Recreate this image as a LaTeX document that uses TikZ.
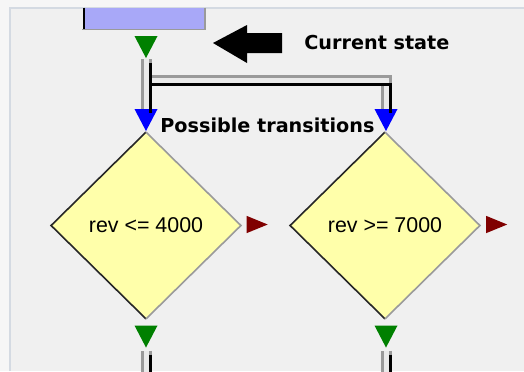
\documentclass[tikz,border=0pt]{standalone}
\usepackage{fontspec}
\usepackage{xcolor}
\usetikzlibrary{shapes.geometric}
\newfontfamily\condfont{Liberation Sans}
\newfontfamily\capfont{DejaVu Sans}
\definecolor{outerbg}{HTML}{F6F6F6}
\definecolor{panelbg}{HTML}{F0F0F0}
\definecolor{paneledge}{HTML}{D4DAE2}
\definecolor{statefill}{HTML}{A8A8F8}
\definecolor{condfill}{HTML}{FFFFAA}
\definecolor{trgreen}{HTML}{008000}
\definecolor{trblue}{HTML}{0000FF}
\definecolor{trred}{HTML}{800000}
\definecolor{pipegray}{HTML}{9A9A9A}
\definecolor{pipelight}{HTML}{EAEAEA}

\begin{document}
\begin{tikzpicture}[x=0.5pt,y=-0.5pt,
  tri/.style={isosceles triangle, isosceles triangle stretches, inner sep=0pt, draw=none},
  downtri/.style={tri, shape border rotate=270, minimum width=11.5pt, minimum height=11pt},
  outtri/.style={tri, shape border rotate=0, fill=trred, minimum width=8.6pt, minimum height=10.5pt},
  cond/.style={diamond, inner sep=0pt, fill=condfill, minimum width=94.5pt, minimum height=93pt,
    font=\condfont\fontsize{10.7pt}{12pt}\selectfont},
  caption/.style={anchor=base west, inner sep=0pt, font=\capfont\bfseries\fontsize{9.6pt}{11pt}\selectfont},
  pipe/.style={draw=pipegray, line width=5.5pt,
    postaction={draw=pipelight, line width=2.5pt},
    postaction={draw=black, line width=1.5pt, transform canvas={xshift=2pt, yshift=-2pt}}}]
  \useasboundingbox (0,0) rectangle (524,371);
  \fill[outerbg] (0,0) rectangle (524,371);
  \fill[panelbg] (11,9) rectangle (524,371);
  \draw[paneledge, line width=1pt] (10,371) -- (10,8) -- (524,8);

  \node[fill=statefill, inner sep=0pt, minimum width=60pt, minimum height=10.5pt] (state) at (144.5,18.5) {};
  \draw[black, line width=1pt] (state.north west) -- (state.south west);
  \draw[pipegray, line width=0.8pt] (state.north east) -- (state.south east) -- ([xshift=-1pt]state.south west);

  \node[downtri, fill=trgreen] (g0) at (146,43) {};
  \fill (213,43) coordinate (ptr) -- ++(34,-18) -- ++(0,8) -- ++(35,0) -- ++(0,20) -- ++(-35,0) -- ++(0,10) -- cycle;
  \node[caption] (cur) at (304,49) {Current state};

  \node[downtri, fill=trblue] (b1) at (146,116) {};
  \node[downtri, fill=trblue] (b2) at (386,116) {};
  \node[caption] (poss) at (160,132) {Possible transitions};

  \coordinate (split) at (146,80);
  \draw[pipe] (split) -| (b2.north);
  \draw[pipe] (g0.south) -- (b1.north);

  \node[cond] (d1) at (146,225.5) {rev <= 4000};
  \node[cond] (d2) at (385,225.5) {rev >= 7000};
  \foreach \d in {d1,d2} {
    \draw[black!85, line width=0.8pt] (\d.north) -- (\d.west) -- (\d.south);
    \draw[pipegray, line width=0.8pt] (\d.north) -- (\d.east) -- (\d.south);
  }

  \node[outtri] (r1) at (252.5,224.5) {};
  \node[outtri] (r2) at (492,224.5) {};

  \node[downtri, fill=trgreen] (g1) at (146,332.5) {};
  \node[downtri, fill=trgreen] (g2) at (386,332.5) {};
  \coordinate (e1) at (146,375);
  \coordinate (e2) at (386,375);
  \draw[pipe] ([yshift=-1pt]g1.south) -- (e1);
  \draw[pipe] ([yshift=-1pt]g2.south) -- (e2);
\end{tikzpicture}
\end{document}
